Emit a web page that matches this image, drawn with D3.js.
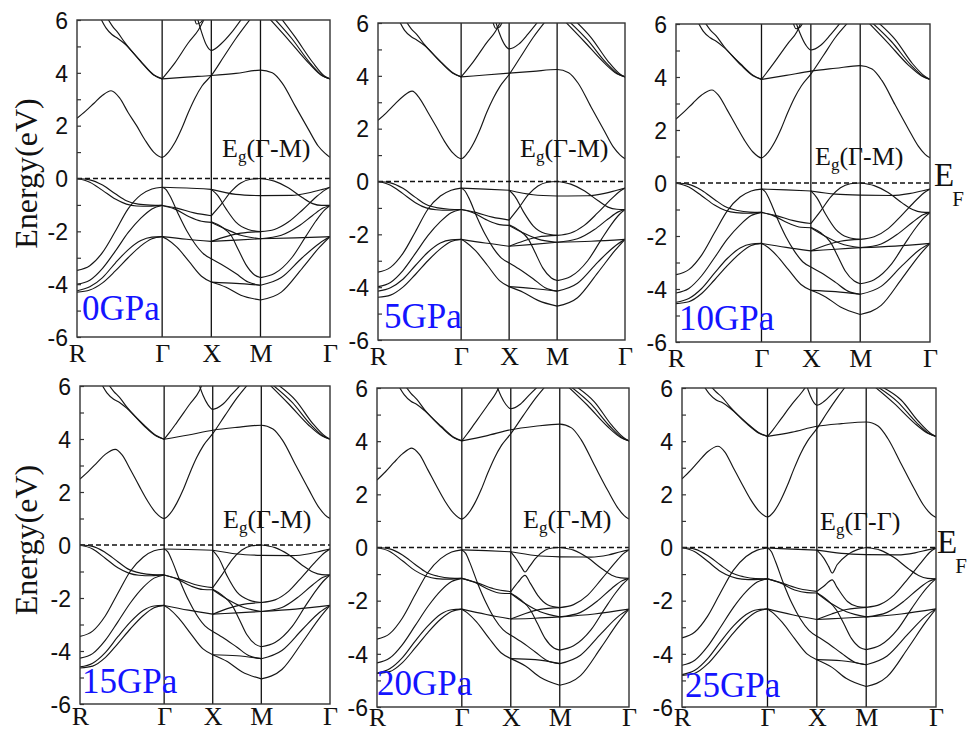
<!DOCTYPE html>
<html>
<head>
<meta charset="utf-8">
<script src="https://cdn.jsdelivr.net/npm/d3@7"></script>
<style>
  body { margin: 0; background: #fff; }
  svg { display: block; }
</style>
</head>
<body>
<svg id="chart" width="968" height="733"></svg>
<script>
// High-symmetry path R-Γ-X-M-Γ of the simple cubic Brillouin zone (k-distance units)
const kNodes = [0, 1.732, 2.732, 3.732, 5.146];
const kLabels = ["R", "Γ", "X", "M", "Γ"];
const energyTicks = [-6, -5, -4, -3, -2, -1, 0, 1, 2, 3, 4, 5, 6];
const energyLabels = [-6, -4, -2, 0, 2, 4, 6];
const pressureLabels = ["0GPa", "5GPa", "10GPa", "15GPa", "20GPa", "25GPa"];
const gapLabels = ["Γ-M", "Γ-M", "Γ-M", "Γ-M", "Γ-M", "Γ-Γ"];

// Each band line: [path position, energy in eV]; the path position is
// segment index + fraction (0..1 R-Γ, 1..2 Γ-X, 2..3 X-M, 3..4 M-Γ)
const bands0GPa = [
  [[0,2.28],[0.1,2.55],[0.2,2.85],[0.3,3.15],[0.4,3.32],[0.5,3.05],[0.6,2.5],[0.7,2.0],[0.8,1.45],[0.9,1.0],[1,0.8],[1.13,1.0],[1.26,1.36],[1.4,1.9],[1.53,2.49],[1.67,3.05],[1.81,3.5],[2,3.9],[2.25,4.6],[2.5,5.3],[2.8,6.05]],
  [[1,3.77],[1.5,3.84],[2,3.9],[2.5,3.98],[3,4.1],[3.17,4.0],[3.31,3.62],[3.5,2.74],[3.69,1.86],[3.83,1.23],[3.93,0.95],[4,0.8]],
  [[0.28,6.05],[0.34,5.7],[0.41,5.45],[0.48,5.3],[0.56,5.1],[0.76,4.38],[0.9,3.92],[1,3.77]],
  [[0.36,6.05],[0.42,5.75],[0.48,5.52],[0.56,5.15],[0.76,4.4],[0.9,3.93],[1,3.77]],
  [[1,3.77],[1.1,4.0],[1.26,4.38],[1.53,5.13],[1.74,5.63],[1.86,6.05]],
  [[1.72,6.05],[1.8,5.55],[1.9,5.05],[2,4.85],[2.2,5.1],[2.4,5.5],[2.62,6.05]],
  [[1.66,6.05],[1.7,5.85],[1.78,5.9],[1.84,6.05]],
  [[3.13,6.05],[3.4,5.26],[3.69,4.38],[3.88,3.9],[4,3.77]],
  [[3.2,6.05],[3.45,5.3],[3.72,4.35],[3.9,3.88],[4,3.77]],
  [[3.3,6.05],[3.5,5.35],[3.75,4.4],[3.92,3.88],[4,3.77]],
  [[0,0],[0.15,-0.05],[0.3,-0.25],[0.45,-0.58],[0.58,-0.84],[0.72,-0.97],[0.86,-1.01],[1,-1.02]],
  [[0,0],[0.15,-0.14],[0.3,-0.45],[0.45,-0.78],[0.58,-0.97],[0.7,-1.04],[0.85,-1.05],[1,-1.02]],
  [[0,-3.48],[0.15,-3.3],[0.3,-2.8],[0.45,-2.0],[0.6,-1.15],[0.75,-0.62],[0.88,-0.4],[1,-0.33]],
  [[0,-4.0],[0.15,-3.85],[0.3,-3.4],[0.45,-2.75],[0.6,-2.05],[0.75,-1.5],[0.88,-1.15],[1,-1.02]],
  [[0,-4.25],[0.15,-4.1],[0.3,-3.75],[0.45,-3.2],[0.6,-2.7],[0.75,-2.35],[0.88,-2.22],[1,-2.2]],
  [[0,-4.3],[0.15,-4.22],[0.3,-3.95],[0.45,-3.5],[0.6,-3.0],[0.75,-2.55],[0.88,-2.28],[1,-2.2]],
  [[1,-0.33],[1.5,-0.36],[2,-0.41]],
  [[1,-0.33],[1.08,-0.42],[1.16,-0.66],[1.33,-1.35],[1.5,-1.98],[1.67,-2.48],[1.84,-2.85],[2,-3.04]],
  [[1,-1.02],[1.3,-1.12],[1.65,-1.3],[2,-1.41]],
  [[1,-1.02],[1.25,-1.15],[1.55,-1.45],[1.8,-1.62],[2,-1.66]],
  [[1,-2.2],[1.5,-2.3],[2,-2.38]],
  [[1,-2.2],[1.1,-2.3],[1.3,-2.6],[1.55,-3.15],[1.8,-3.7],[2,-3.92]],
  [[2,-0.41],[2.5,-0.6],[3,-0.65]],
  [[2,-1.41],[2.2,-0.98],[2.4,-0.5],[2.6,-0.17],[2.8,-0.03],[3,0]],
  [[2,-0.41],[2.12,-0.62],[2.3,-1.15],[2.5,-1.65],[2.75,-1.93],[3,-2.01]],
  [[2,-1.64],[2.2,-1.82],[2.4,-2.15],[2.55,-2.7],[2.7,-3.25],[2.88,-3.65],[3,-3.75]],
  [[2,-1.66],[2.3,-1.92],[2.6,-2.15],[3,-2.28]],
  [[2,-2.38],[2.3,-2.2],[2.6,-2.07],[3,-2.01]],
  [[2,-2.38],[2.5,-2.33],[3,-2.28]],
  [[2,-3.04],[2.2,-3.25],[2.5,-3.6],[2.75,-3.92],[3,-4.04]],
  [[2,-3.92],[2.5,-3.97],[3,-4.04]],
  [[2,-3.92],[2.3,-4.12],[2.6,-4.42],[3,-4.6]],
  [[3,0],[3.2,-0.1],[3.4,-0.35],[3.6,-0.72],[3.75,-0.95],[3.88,-1.02],[4,-1.02]],
  [[3,-2.01],[3.2,-1.93],[3.4,-1.65],[3.6,-1.2],[3.8,-0.7],[3.92,-0.45],[4,-0.33]],
  [[3,-0.65],[3.45,-0.64],[3.7,-0.54],[3.88,-0.42],[4,-0.33]],
  [[3,-2.28],[3.3,-2.15],[3.55,-1.8],[3.75,-1.4],[3.9,-1.12],[4,-1.02]],
  [[3,-2.28],[3.5,-2.25],[4,-2.2]],
  [[3,-3.75],[3.2,-3.6],[3.45,-3.0],[3.65,-2.2],[3.8,-1.6],[3.92,-1.2],[4,-1.02]],
  [[3,-4.04],[3.3,-3.75],[3.6,-3.0],[3.85,-2.45],[4,-2.2]],
  [[3,-4.6],[3.3,-4.3],[3.6,-3.4],[3.85,-2.6],[4,-2.2]]
];

const bands5GPa = [
  [[0,2.32],[0.1,2.6],[0.2,2.92],[0.3,3.22],[0.41,3.42],[0.5,3.15],[0.6,2.62],[0.7,2.08],[0.8,1.52],[0.9,1.08],[1,0.86],[1.13,1.07],[1.26,1.45],[1.4,2.0],[1.53,2.6],[1.67,3.15],[1.81,3.6],[2,4.05],[2.25,4.75],[2.5,5.45],[2.75,6.05]],
  [[1,3.96],[1.5,4.03],[2,4.1],[2.5,4.17],[3,4.24],[3.17,4.12],[3.31,3.72],[3.5,2.82],[3.69,1.94],[3.83,1.3],[3.93,1.0],[4,0.86]],
  [[0.26,6.05],[0.32,5.72],[0.4,5.48],[0.47,5.35],[0.56,5.15],[0.76,4.5],[0.9,4.1],[1,3.96]],
  [[0.34,6.05],[0.4,5.78],[0.47,5.55],[0.56,5.18],[0.76,4.52],[0.9,4.12],[1,3.96]],
  [[1,3.96],[1.1,4.18],[1.26,4.55],[1.53,5.25],[1.72,5.7],[1.82,6.05]],
  [[1.72,6.05],[1.8,5.6],[1.9,5.2],[2,5.02],[2.2,5.2],[2.4,5.6],[2.6,6.05]],
  [[1.66,6.05],[1.72,5.8],[1.8,5.85],[1.86,6.05]],
  [[3.12,6.05],[3.4,5.3],[3.69,4.5],[3.88,4.08],[4,3.96]],
  [[3.18,6.05],[3.45,5.35],[3.72,4.5],[3.9,4.07],[4,3.96]],
  [[3.28,6.05],[3.5,5.45],[3.75,4.55],[3.92,4.08],[4,3.96]],
  [[0,0],[0.15,-0.05],[0.3,-0.26],[0.45,-0.6],[0.58,-0.87],[0.72,-1.0],[0.86,-1.05],[1,-1.06]],
  [[0,0],[0.15,-0.14],[0.3,-0.46],[0.45,-0.8],[0.58,-1.0],[0.7,-1.07],[0.85,-1.09],[1,-1.06]],
  [[0,-3.43],[0.15,-3.25],[0.3,-2.72],[0.45,-1.9],[0.6,-1.05],[0.75,-0.55],[0.88,-0.33],[1,-0.25]],
  [[0,-3.98],[0.15,-3.82],[0.3,-3.37],[0.45,-2.72],[0.6,-2.05],[0.75,-1.52],[0.88,-1.18],[1,-1.06]],
  [[0,-4.15],[0.15,-4.02],[0.3,-3.7],[0.45,-3.18],[0.6,-2.68],[0.75,-2.33],[0.88,-2.21],[1,-2.19]],
  [[0,-4.38],[0.15,-4.3],[0.3,-4.0],[0.45,-3.52],[0.6,-3.0],[0.75,-2.55],[0.88,-2.27],[1,-2.19]],
  [[1,-0.25],[1.5,-0.29],[2,-0.33]],
  [[1,-0.25],[1.08,-0.36],[1.16,-0.62],[1.33,-1.35],[1.5,-2.0],[1.67,-2.52],[1.84,-2.9],[2,-3.08]],
  [[1,-1.06],[1.3,-1.17],[1.65,-1.35],[2,-1.46]],
  [[1,-1.06],[1.25,-1.18],[1.55,-1.47],[1.8,-1.63],[2,-1.66]],
  [[1,-2.19],[1.5,-2.33],[2,-2.45]],
  [[1,-2.19],[1.1,-2.3],[1.3,-2.62],[1.55,-3.18],[1.8,-3.75],[2,-3.98]],
  [[2,-0.33],[2.5,-0.5],[3,-0.55]],
  [[2,-1.46],[2.2,-1.0],[2.4,-0.5],[2.6,-0.17],[2.8,-0.03],[3,0]],
  [[2,-0.33],[2.12,-0.56],[2.3,-1.15],[2.5,-1.68],[2.75,-1.97],[3,-2.04]],
  [[2,-1.64],[2.2,-1.84],[2.4,-2.18],[2.55,-2.72],[2.7,-3.27],[2.88,-3.65],[3,-3.75]],
  [[2,-1.66],[2.3,-1.95],[2.6,-2.18],[3,-2.3]],
  [[2,-2.45],[2.3,-2.25],[2.6,-2.1],[3,-2.04]],
  [[2,-2.45],[2.5,-2.38],[3,-2.3]],
  [[2,-3.08],[2.2,-3.3],[2.5,-3.68],[2.75,-4.02],[3,-4.15]],
  [[2,-3.98],[2.5,-4.05],[3,-4.15]],
  [[2,-3.98],[2.3,-4.2],[2.6,-4.5],[3,-4.72]],
  [[3,0],[3.2,-0.1],[3.4,-0.35],[3.6,-0.72],[3.75,-0.97],[3.88,-1.05],[4,-1.06]],
  [[3,-2.04],[3.2,-1.95],[3.4,-1.66],[3.6,-1.18],[3.8,-0.66],[3.92,-0.38],[4,-0.25]],
  [[3,-0.55],[3.45,-0.54],[3.7,-0.45],[3.88,-0.33],[4,-0.25]],
  [[3,-2.3],[3.3,-2.17],[3.55,-1.82],[3.75,-1.42],[3.9,-1.15],[4,-1.06]],
  [[3,-2.3],[3.5,-2.26],[4,-2.19]],
  [[3,-3.75],[3.2,-3.6],[3.45,-3.0],[3.65,-2.2],[3.8,-1.62],[3.92,-1.24],[4,-1.06]],
  [[3,-4.15],[3.3,-3.85],[3.6,-3.05],[3.85,-2.45],[4,-2.19]],
  [[3,-4.72],[3.3,-4.4],[3.6,-3.45],[3.85,-2.62],[4,-2.19]]
];

const bands10GPa = [
  [[0,2.41],[0.1,2.7],[0.2,3.02],[0.3,3.32],[0.42,3.51],[0.5,3.3],[0.6,2.75],[0.7,2.18],[0.8,1.62],[0.9,1.17],[1,0.95],[1.13,1.15],[1.26,1.52],[1.4,2.06],[1.53,2.65],[1.67,3.22],[1.81,3.67],[2,4.11],[2.25,4.8],[2.5,5.5],[2.75,6.05]],
  [[1,3.91],[1.5,4.06],[2,4.22],[2.5,4.33],[3,4.43],[3.17,4.3],[3.31,3.87],[3.5,2.95],[3.69,2.04],[3.83,1.4],[3.93,1.08],[4,0.95]],
  [[0.26,6.05],[0.32,5.72],[0.4,5.48],[0.47,5.35],[0.56,5.12],[0.76,4.45],[0.9,4.05],[1,3.91]],
  [[0.34,6.05],[0.4,5.78],[0.47,5.55],[0.56,5.16],[0.76,4.48],[0.9,4.07],[1,3.91]],
  [[1,3.91],[1.1,4.15],[1.26,4.55],[1.53,5.25],[1.72,5.72],[1.8,6.05]],
  [[1.7,6.05],[1.78,5.65],[1.9,5.2],[2,5.02],[2.2,5.2],[2.4,5.6],[2.6,6.05]],
  [[1.64,6.05],[1.7,5.82],[1.78,5.88],[1.84,6.05]],
  [[3.12,6.05],[3.4,5.28],[3.69,4.45],[3.88,4.04],[4,3.91]],
  [[3.17,6.05],[3.45,5.33],[3.72,4.47],[3.9,4.03],[4,3.91]],
  [[3.26,6.05],[3.5,5.42],[3.75,4.5],[3.92,4.04],[4,3.91]],
  [[0,0],[0.15,-0.05],[0.3,-0.27],[0.45,-0.62],[0.58,-0.9],[0.72,-1.04],[0.86,-1.1],[1,-1.11]],
  [[0,0],[0.15,-0.15],[0.3,-0.48],[0.45,-0.83],[0.58,-1.04],[0.7,-1.12],[0.85,-1.14],[1,-1.11]],
  [[0,-3.46],[0.15,-3.27],[0.3,-2.72],[0.45,-1.88],[0.6,-1.05],[0.75,-0.53],[0.88,-0.3],[1,-0.23]],
  [[0,-4.15],[0.15,-3.98],[0.3,-3.5],[0.45,-2.82],[0.6,-2.12],[0.75,-1.58],[0.88,-1.23],[1,-1.11]],
  [[0,-4.5],[0.15,-4.36],[0.3,-3.98],[0.45,-3.4],[0.6,-2.85],[0.75,-2.45],[0.88,-2.3],[1,-2.28]],
  [[0,-4.55],[0.15,-4.48],[0.3,-4.17],[0.45,-3.66],[0.6,-3.12],[0.75,-2.65],[0.88,-2.36],[1,-2.28]],
  [[1,-0.23],[1.5,-0.26],[2,-0.3]],
  [[1,-0.23],[1.08,-0.34],[1.16,-0.62],[1.33,-1.38],[1.5,-2.05],[1.67,-2.58],[1.84,-2.98],[2,-3.17]],
  [[1,-1.11],[1.3,-1.23],[1.65,-1.42],[2,-1.53]],
  [[1,-1.11],[1.25,-1.24],[1.55,-1.52],[1.8,-1.67],[2,-1.69]],
  [[1,-2.28],[1.5,-2.43],[2,-2.56]],
  [[1,-2.28],[1.1,-2.39],[1.3,-2.72],[1.55,-3.28],[1.8,-3.83],[2,-4.05]],
  [[2,-0.3],[2.5,-0.42],[3,-0.46]],
  [[2,-1.53],[2.2,-1.05],[2.4,-0.53],[2.6,-0.18],[2.8,-0.03],[3,0]],
  [[2,-0.3],[2.12,-0.55],[2.3,-1.18],[2.5,-1.74],[2.75,-2.05],[3,-2.13]],
  [[2,-1.67],[2.2,-1.88],[2.4,-2.24],[2.55,-2.78],[2.7,-3.33],[2.88,-3.7],[3,-3.8]],
  [[2,-1.69],[2.3,-2.02],[2.6,-2.28],[3,-2.44]],
  [[2,-2.56],[2.3,-2.35],[2.6,-2.2],[3,-2.13]],
  [[2,-2.56],[2.5,-2.5],[3,-2.44]],
  [[2,-3.17],[2.2,-3.38],[2.5,-3.75],[2.75,-4.08],[3,-4.2]],
  [[2,-4.05],[2.5,-4.1],[3,-4.2]],
  [[2,-4.05],[2.3,-4.3],[2.6,-4.68],[3,-4.96]],
  [[3,0],[3.2,-0.1],[3.4,-0.36],[3.6,-0.75],[3.75,-1.0],[3.88,-1.1],[4,-1.11]],
  [[3,-2.13],[3.2,-2.03],[3.4,-1.72],[3.6,-1.2],[3.8,-0.65],[3.92,-0.36],[4,-0.23]],
  [[3,-0.46],[3.45,-0.47],[3.7,-0.4],[3.88,-0.3],[4,-0.23]],
  [[3,-2.44],[3.3,-2.3],[3.55,-1.9],[3.75,-1.48],[3.9,-1.2],[4,-1.11]],
  [[3,-2.44],[3.5,-2.38],[4,-2.28]],
  [[3,-3.8],[3.2,-3.65],[3.45,-3.05],[3.65,-2.25],[3.8,-1.68],[3.92,-1.3],[4,-1.11]],
  [[3,-4.2],[3.3,-3.9],[3.6,-3.12],[3.85,-2.52],[4,-2.28]],
  [[3,-4.96],[3.3,-4.62],[3.6,-3.6],[3.85,-2.72],[4,-2.28]]
];

const bands15GPa = [
  [[0,2.49],[0.1,2.78],[0.2,3.1],[0.3,3.42],[0.42,3.61],[0.5,3.4],[0.6,2.84],[0.7,2.25],[0.8,1.68],[0.9,1.22],[1,1.0],[1.13,1.2],[1.26,1.58],[1.4,2.12],[1.53,2.72],[1.67,3.3],[1.81,3.76],[2,4.2],[2.25,4.88],[2.5,5.55],[2.72,6.05]],
  [[1,3.99],[1.5,4.15],[2,4.33],[2.5,4.44],[3,4.52],[3.17,4.38],[3.31,3.95],[3.5,3.02],[3.69,2.1],[3.83,1.45],[3.93,1.13],[4,1.0]],
  [[0.26,6.05],[0.32,5.74],[0.4,5.5],[0.47,5.38],[0.56,5.15],[0.76,4.5],[0.9,4.12],[1,3.99]],
  [[0.34,6.05],[0.4,5.8],[0.47,5.57],[0.56,5.19],[0.76,4.53],[0.9,4.14],[1,3.99]],
  [[1,3.99],[1.1,4.22],[1.26,4.62],[1.53,5.32],[1.72,5.8],[1.78,6.05]],
  [[1.72,6.05],[1.8,5.65],[1.9,5.3],[2,5.12],[2.2,5.3],[2.4,5.7],[2.58,6.05]],
  [[3.12,6.05],[3.4,5.32],[3.69,4.52],[3.88,4.12],[4,3.99]],
  [[3.16,6.05],[3.45,5.38],[3.72,4.54],[3.9,4.11],[4,3.99]],
  [[3.24,6.05],[3.5,5.46],[3.75,4.58],[3.92,4.12],[4,3.99]],
  [[0,0],[0.15,-0.05],[0.3,-0.28],[0.45,-0.63],[0.58,-0.92],[0.72,-1.06],[0.86,-1.12],[1,-1.13]],
  [[0,0],[0.15,-0.15],[0.3,-0.5],[0.45,-0.86],[0.58,-1.06],[0.7,-1.14],[0.85,-1.16],[1,-1.13]],
  [[0,-3.45],[0.15,-3.25],[0.3,-2.68],[0.45,-1.82],[0.6,-0.98],[0.75,-0.46],[0.88,-0.22],[1,-0.15]],
  [[0,-4.27],[0.15,-4.1],[0.3,-3.6],[0.45,-2.9],[0.6,-2.18],[0.75,-1.6],[0.88,-1.25],[1,-1.13]],
  [[0,-4.6],[0.15,-4.46],[0.3,-4.06],[0.45,-3.46],[0.6,-2.9],[0.75,-2.47],[0.88,-2.3],[1,-2.28]],
  [[0,-4.64],[0.15,-4.57],[0.3,-4.25],[0.45,-3.72],[0.6,-3.16],[0.75,-2.67],[0.88,-2.37],[1,-2.28]],
  [[1,-0.15],[1.5,-0.17],[2,-0.2]],
  [[1,-0.15],[1.08,-0.27],[1.16,-0.58],[1.33,-1.38],[1.5,-2.08],[1.67,-2.64],[1.84,-3.05],[2,-3.26]],
  [[1,-1.13],[1.3,-1.28],[1.65,-1.5],[2,-1.61]],
  [[1,-1.13],[1.25,-1.27],[1.55,-1.55],[1.8,-1.68],[2,-1.69]],
  [[1,-2.28],[1.5,-2.46],[2,-2.61]],
  [[1,-2.28],[1.1,-2.4],[1.3,-2.76],[1.55,-3.35],[1.8,-3.92],[2,-4.14]],
  [[2,-0.2],[2.5,-0.34],[3,-0.39]],
  [[2,-1.61],[2.2,-1.1],[2.4,-0.55],[2.6,-0.19],[2.8,-0.03],[3,0]],
  [[2,-0.2],[2.12,-0.48],[2.3,-1.18],[2.5,-1.78],[2.75,-2.08],[3,-2.17]],
  [[2,-1.67],[2.2,-1.9],[2.4,-2.28],[2.55,-2.82],[2.7,-3.38],[2.88,-3.75],[3,-3.84]],
  [[2,-1.69],[2.3,-2.05],[2.6,-2.33],[3,-2.51]],
  [[2,-2.61],[2.3,-2.4],[2.6,-2.25],[3,-2.17]],
  [[2,-2.61],[2.5,-2.56],[3,-2.51]],
  [[2,-3.26],[2.2,-3.48],[2.5,-3.86],[2.75,-4.18],[3,-4.29]],
  [[2,-4.14],[2.5,-4.18],[3,-4.29]],
  [[2,-4.14],[2.3,-4.4],[2.6,-4.78],[3,-5.05]],
  [[3,0],[3.2,-0.1],[3.4,-0.37],[3.6,-0.77],[3.75,-1.02],[3.88,-1.12],[4,-1.13]],
  [[3,-2.17],[3.2,-2.07],[3.4,-1.74],[3.6,-1.18],[3.8,-0.6],[3.92,-0.29],[4,-0.15]],
  [[3,-0.39],[3.45,-0.4],[3.7,-0.33],[3.88,-0.22],[4,-0.15]],
  [[3,-2.51],[3.3,-2.36],[3.55,-1.94],[3.75,-1.5],[3.9,-1.22],[4,-1.13]],
  [[3,-2.51],[3.5,-2.42],[4,-2.28]],
  [[3,-3.84],[3.2,-3.68],[3.45,-3.07],[3.65,-2.27],[3.8,-1.7],[3.92,-1.32],[4,-1.13]],
  [[3,-4.29],[3.3,-3.98],[3.6,-3.18],[3.85,-2.54],[4,-2.28]],
  [[3,-5.05],[3.3,-4.7],[3.6,-3.66],[3.85,-2.75],[4,-2.28]]
];

const bands20GPa = [
  [[0,2.54],[0.1,2.85],[0.2,3.2],[0.3,3.52],[0.41,3.74],[0.5,3.5],[0.6,2.92],[0.7,2.32],[0.8,1.75],[0.9,1.3],[1,1.07],[1.13,1.27],[1.26,1.65],[1.4,2.2],[1.53,2.8],[1.67,3.38],[1.81,3.84],[2,4.28],[2.25,4.95],[2.5,5.6],[2.7,6.05]],
  [[1,4.01],[1.5,4.2],[2,4.43],[2.5,4.56],[3,4.64],[3.17,4.5],[3.31,4.05],[3.5,3.1],[3.69,2.16],[3.83,1.52],[3.93,1.2],[4,1.07]],
  [[0.26,6.05],[0.32,5.75],[0.4,5.5],[0.47,5.38],[0.56,5.15],[0.76,4.52],[0.9,4.14],[1,4.01]],
  [[0.34,6.05],[0.4,5.8],[0.47,5.57],[0.56,5.19],[0.76,4.55],[0.9,4.16],[1,4.01]],
  [[1,4.01],[1.1,4.25],[1.26,4.66],[1.53,5.36],[1.7,5.82],[1.76,6.05]],
  [[1.72,6.05],[1.8,5.7],[1.9,5.38],[2,5.22],[2.2,5.4],[2.4,5.78],[2.55,6.05]],
  [[3.12,6.05],[3.4,5.35],[3.69,4.55],[3.88,4.14],[4,4.01]],
  [[3.16,6.05],[3.45,5.4],[3.72,4.57],[3.9,4.13],[4,4.01]],
  [[3.24,6.05],[3.5,5.48],[3.75,4.6],[3.92,4.14],[4,4.01]],
  [[0,0],[0.15,-0.05],[0.3,-0.28],[0.45,-0.64],[0.58,-0.93],[0.72,-1.08],[0.86,-1.15],[1,-1.16]],
  [[0,0],[0.15,-0.15],[0.3,-0.5],[0.45,-0.87],[0.58,-1.08],[0.7,-1.17],[0.85,-1.19],[1,-1.16]],
  [[0,-3.45],[0.15,-3.24],[0.3,-2.65],[0.45,-1.78],[0.6,-0.94],[0.75,-0.42],[0.88,-0.17],[1,-0.09]],
  [[0,-4.34],[0.15,-4.16],[0.3,-3.65],[0.45,-2.94],[0.6,-2.22],[0.75,-1.63],[0.88,-1.28],[1,-1.16]],
  [[0,-4.72],[0.15,-4.56],[0.3,-4.14],[0.45,-3.52],[0.6,-2.95],[0.75,-2.51],[0.88,-2.34],[1,-2.32]],
  [[0,-4.74],[0.15,-4.67],[0.3,-4.33],[0.45,-3.78],[0.6,-3.2],[0.75,-2.7],[0.88,-2.41],[1,-2.32]],
  [[1,-0.09],[1.5,-0.12],[2,-0.16]],
  [[1,-0.09],[1.08,-0.22],[1.16,-0.55],[1.33,-1.38],[1.5,-2.1],[1.67,-2.68],[1.84,-3.09],[2,-3.3]],
  [[1,-1.16],[1.3,-1.32],[1.65,-1.55],[2,-1.66]],
  [[1,-1.16],[1.25,-1.3],[1.55,-1.58],[1.8,-1.72],[2,-1.73]],
  [[1,-2.32],[1.5,-2.52],[2,-2.69]],
  [[1,-2.32],[1.1,-2.44],[1.3,-2.8],[1.55,-3.4],[1.8,-3.96],[2,-4.18]],
  [[2,-0.16],[2.5,-0.3],[3,-0.35]],
  [[2,-0.16],[2.12,-0.45],[2.22,-0.75],[2.29,-0.92],[2.38,-0.72],[2.5,-0.42],[2.7,-0.1],[2.85,-0.02],[3,0]],
  [[2,-1.66],[2.15,-1.3],[2.29,-1.05],[2.4,-1.35],[2.55,-1.8],[2.75,-2.15],[3,-2.26]],
  [[2,-1.72],[2.2,-1.96],[2.4,-2.35],[2.55,-2.88],[2.7,-3.42],[2.88,-3.78],[3,-3.86]],
  [[2,-1.73],[2.3,-2.12],[2.6,-2.42],[3,-2.61]],
  [[2,-2.69],[2.3,-2.48],[2.6,-2.33],[3,-2.26]],
  [[2,-2.69],[2.5,-2.66],[3,-2.61]],
  [[2,-3.3],[2.2,-3.53],[2.5,-3.93],[2.75,-4.26],[3,-4.37]],
  [[2,-4.18],[2.5,-4.22],[3,-4.37]],
  [[2,-4.18],[2.3,-4.46],[2.6,-4.88],[3,-5.18]],
  [[3,0],[3.2,-0.1],[3.4,-0.38],[3.6,-0.78],[3.75,-1.04],[3.88,-1.14],[4,-1.16]],
  [[3,-2.26],[3.2,-2.15],[3.4,-1.8],[3.6,-1.2],[3.8,-0.57],[3.92,-0.23],[4,-0.09]],
  [[3,-0.35],[3.45,-0.36],[3.7,-0.28],[3.88,-0.16],[4,-0.09]],
  [[3,-2.61],[3.3,-2.44],[3.55,-2.0],[3.75,-1.54],[3.9,-1.25],[4,-1.16]],
  [[3,-2.61],[3.5,-2.5],[4,-2.32]],
  [[3,-3.86],[3.2,-3.7],[3.45,-3.1],[3.65,-2.3],[3.8,-1.73],[3.92,-1.35],[4,-1.16]],
  [[3,-4.37],[3.3,-4.05],[3.6,-3.23],[3.85,-2.58],[4,-2.32]],
  [[3,-5.18],[3.3,-4.82],[3.6,-3.75],[3.85,-2.8],[4,-2.32]]
];

const bands25GPa = [
  [[0,2.58],[0.1,2.9],[0.2,3.26],[0.3,3.6],[0.42,3.81],[0.5,3.6],[0.6,3.0],[0.7,2.4],[0.8,1.82],[0.9,1.37],[1,1.15],[1.13,1.35],[1.26,1.75],[1.4,2.32],[1.53,2.93],[1.67,3.53],[1.81,4.0],[2,4.47],[2.2,5.05],[2.42,5.65],[2.58,6.05]],
  [[1,4.18],[1.5,4.34],[2,4.56],[2.5,4.66],[3,4.72],[3.17,4.57],[3.31,4.1],[3.5,3.15],[3.69,2.2],[3.83,1.56],[3.93,1.25],[4,1.13]],
  [[0.26,6.05],[0.32,5.78],[0.4,5.55],[0.47,5.45],[0.56,5.25],[0.76,4.65],[0.9,4.3],[1,4.18]],
  [[0.34,6.05],[0.4,5.85],[0.47,5.65],[0.56,5.3],[0.76,4.68],[0.9,4.32],[1,4.18]],
  [[1,4.18],[1.1,4.4],[1.26,4.8],[1.5,5.4],[1.7,5.85],[1.78,6.05]],
  [[1.8,6.05],[1.87,5.7],[1.94,5.45],[2,5.35],[2.15,5.5],[2.32,5.8],[2.47,6.05]],
  [[3.12,6.05],[3.4,5.42],[3.69,4.68],[3.88,4.3],[4,4.18]],
  [[3.16,6.05],[3.45,5.48],[3.72,4.7],[3.9,4.29],[4,4.18]],
  [[3.22,6.05],[3.5,5.55],[3.75,4.74],[3.92,4.3],[4,4.18]],
  [[0,0],[0.15,-0.06],[0.3,-0.3],[0.45,-0.66],[0.58,-0.95],[0.72,-1.1],[0.86,-1.17],[1,-1.18]],
  [[0,0],[0.15,-0.16],[0.3,-0.52],[0.45,-0.9],[0.58,-1.1],[0.7,-1.19],[0.85,-1.21],[1,-1.18]],
  [[0,-3.4],[0.15,-3.18],[0.3,-2.58],[0.45,-1.7],[0.6,-0.86],[0.75,-0.34],[0.88,-0.1],[1,-0.02]],
  [[0,-4.43],[0.15,-4.24],[0.3,-3.72],[0.45,-3.0],[0.6,-2.26],[0.75,-1.66],[0.88,-1.3],[1,-1.18]],
  [[0,-4.78],[0.15,-4.62],[0.3,-4.18],[0.45,-3.55],[0.6,-2.96],[0.75,-2.52],[0.88,-2.34],[1,-2.31]],
  [[0,-4.81],[0.15,-4.73],[0.3,-4.38],[0.45,-3.82],[0.6,-3.22],[0.75,-2.71],[0.88,-2.41],[1,-2.31]],
  [[1,-0.02],[1.5,-0.06],[2,-0.1]],
  [[1,-0.02],[1.08,-0.16],[1.16,-0.52],[1.33,-1.38],[1.5,-2.12],[1.67,-2.7],[1.84,-3.12],[2,-3.34]],
  [[1,-1.18],[1.3,-1.34],[1.65,-1.55],[2,-1.65]],
  [[1,-1.18],[1.25,-1.32],[1.55,-1.6],[1.8,-1.7],[2,-1.71]],
  [[1,-2.31],[1.5,-2.53],[2,-2.71]],
  [[1,-2.31],[1.1,-2.44],[1.3,-2.82],[1.55,-3.43],[1.8,-4.0],[2,-4.22]],
  [[2,-0.1],[2.5,-0.22],[3,-0.27]],
  [[2,-0.1],[2.14,-0.4],[2.24,-0.72],[2.31,-0.96],[2.41,-0.65],[2.62,-0.27],[2.82,-0.08],[3,0]],
  [[2,-1.65],[2.14,-1.46],[2.31,-1.22],[2.41,-1.5],[2.62,-2.03],[2.82,-2.22],[3,-2.25]],
  [[2,-1.7],[2.2,-1.96],[2.4,-2.36],[2.55,-2.88],[2.7,-3.42],[2.88,-3.77],[3,-3.84]],
  [[2,-1.71],[2.3,-2.12],[2.6,-2.42],[3,-2.61]],
  [[2,-2.71],[2.3,-2.5],[2.6,-2.33],[3,-2.25]],
  [[2,-2.71],[2.5,-2.66],[3,-2.61]],
  [[2,-3.34],[2.2,-3.57],[2.5,-3.98],[2.75,-4.3],[3,-4.41]],
  [[2,-4.22],[2.5,-4.26],[3,-4.41]],
  [[2,-4.22],[2.3,-4.5],[2.6,-4.93],[3,-5.23]],
  [[3,0],[3.2,-0.1],[3.4,-0.38],[3.6,-0.79],[3.75,-1.05],[3.88,-1.16],[4,-1.18]],
  [[3,-2.25],[3.2,-2.14],[3.4,-1.78],[3.6,-1.17],[3.8,-0.52],[3.92,-0.16],[4,-0.02]],
  [[3,-0.27],[3.45,-0.28],[3.7,-0.2],[3.88,-0.09],[4,-0.02]],
  [[3,-2.61],[3.3,-2.44],[3.55,-2.0],[3.75,-1.55],[3.9,-1.27],[4,-1.18]],
  [[3,-2.61],[3.5,-2.5],[4,-2.31]],
  [[3,-3.84],[3.2,-3.68],[3.45,-3.08],[3.65,-2.3],[3.8,-1.74],[3.92,-1.37],[4,-1.18]],
  [[3,-4.41],[3.3,-4.08],[3.6,-3.25],[3.85,-2.58],[4,-2.31]],
  [[3,-5.23],[3.3,-4.86],[3.6,-3.78],[3.85,-2.82],[4,-2.31]]
];

const panelBands = [bands0GPa, bands5GPa, bands10GPa, bands15GPa, bands20GPa, bands25GPa];

// Frame geometry and label placement of the six panels
const panels = [
  { l: 77,  r: 330, t: 20,  b: 337, xpad: 7, title: true,  ef: false, gx: 222, gy: 157, px: 82,  py: 320 },
  { l: 378, r: 625, t: 23,  b: 340, xpad: 7, title: false, ef: false, gx: 520, gy: 157, px: 384, py: 328 },
  { l: 676, r: 930, t: 24,  b: 342, xpad: 7, title: false, ef: true,  gx: 815, gy: 165, px: 679, py: 330, ex: 934, ey: 186 },
  { l: 80,  r: 330, t: 386, b: 704, xpad: 3, title: true,  ef: false, gx: 223, gy: 528, px: 82,  py: 693 },
  { l: 377, r: 629, t: 388, b: 707, xpad: 1, title: false, ef: false, gx: 523, gy: 528, px: 377, py: 695 },
  { l: 682, r: 936, t: 388, b: 707, xpad: 1, title: false, ef: true,  gx: 820, gy: 530, px: 685, py: 697, ex: 937, ey: 553 }
];

const svg = d3.select("#chart");
const serif = "'Liberation Serif', 'Times New Roman', serif";
const sans = "'Liberation Sans', Arial, sans-serif";

// path position (segment + fraction) -> k distance
function kAt(s) {
  const i = Math.min(Math.floor(s), 3);
  const f = s - i;
  return kNodes[i] + f * (kNodes[i + 1] - kNodes[i]);
}

panels.forEach((p, idx) => {
  const x = d3.scaleLinear().domain([kNodes[0], kNodes[4]]).range([p.l, p.r]);
  const y = d3.scaleLinear().domain([-6, 6]).range([p.b, p.t]);
  const g = svg.append("g");

  const clipId = "clip" + idx;
  svg.append("clipPath").attr("id", clipId)
    .append("rect").attr("x", p.l).attr("y", p.t)
    .attr("width", p.r - p.l).attr("height", p.b - p.t);

  // band lines
  const line = d3.line()
    .x(d => x(kAt(d[0])))
    .y(d => y(d[1]))
    .curve(d3.curveMonotoneX);

  g.append("g").attr("clip-path", `url(#${clipId})`)
    .selectAll("path").data(panelBands[idx]).join("path")
    .attr("d", line)
    .attr("fill", "none")
    .attr("stroke", "#161616")
    .attr("stroke-width", 1.15)
    .attr("stroke-linejoin", "round");

  // Fermi level
  g.append("line")
    .attr("x1", p.l).attr("x2", p.r)
    .attr("y1", y(0)).attr("y2", y(0))
    .attr("stroke", "#111").attr("stroke-width", 1.3)
    .attr("stroke-dasharray", "5,3");

  // high-symmetry verticals
  g.selectAll("line.sym").data(kNodes.slice(1, 4)).join("line")
    .attr("class", "sym")
    .attr("x1", d => x(d)).attr("x2", d => x(d))
    .attr("y1", p.t).attr("y2", p.b)
    .attr("stroke", "#111").attr("stroke-width", 1.3);

  // frame
  g.append("rect")
    .attr("x", p.l).attr("y", p.t)
    .attr("width", p.r - p.l).attr("height", p.b - p.t)
    .attr("fill", "none").attr("stroke", "#333").attr("stroke-width", 1.4);

  // energy axis: inward ticks on every eV, labels on even values
  const yAxis = d3.axisLeft(y)
    .tickValues(energyTicks)
    .tickSizeInner(-4).tickSizeOuter(0)
    .tickPadding(9)
    .tickFormat(d => energyLabels.includes(d) ? String(d) : "");
  const ya = g.append("g").attr("transform", `translate(${p.l},0)`).call(yAxis);
  ya.select(".domain").remove();
  ya.selectAll(".tick line").attr("stroke", "#333").attr("stroke-width", 1.2);
  ya.selectAll(".tick text")
    .attr("font-family", sans).attr("font-size", 23)
    .attr("fill", "#111").attr("dy", "0.36em");

  // k-path axis
  const xAxis = d3.axisBottom(x)
    .tickValues(kNodes)
    .tickFormat((d, i) => kLabels[i])
    .tickSize(0).tickPadding(p.xpad);
  const xa = g.append("g").attr("transform", `translate(0,${p.b})`).call(xAxis);
  xa.select(".domain").remove();
  xa.selectAll(".tick text")
    .attr("font-family", serif).attr("font-size", 26).attr("fill", "#111");

  if (p.title) {
    g.append("text")
      .attr("transform", `translate(37,${(p.t + p.b) / 2 - 5}) rotate(-90)`)
      .attr("text-anchor", "middle")
      .attr("font-family", serif).attr("font-size", 32).attr("fill", "#111")
      .text("Energy(eV)");
  }

  // band-gap label
  const gl = g.append("text")
    .attr("x", p.gx).attr("y", p.gy)
    .attr("font-family", serif).attr("font-size", 26).attr("fill", "#111");
  gl.append("tspan").text("E");
  gl.append("tspan").attr("font-size", 17).attr("dy", 5).text("g");
  gl.append("tspan").attr("dy", -5).text("(" + gapLabels[idx] + ")");

  // pressure label
  g.append("text")
    .attr("x", p.px).attr("y", p.py)
    .attr("font-family", serif).attr("font-size", 35).attr("fill", "#1414ff")
    .text(pressureLabels[idx]);

  if (p.ef) {
    const ef = g.append("text")
      .attr("x", p.ex).attr("y", p.ey)
      .attr("font-family", serif).attr("font-size", 33).attr("fill", "#111");
    ef.append("tspan").text("E");
    ef.append("tspan").attr("font-size", 21).attr("dy", 20).attr("dx", -2).text("F");
  }
});
</script>
</body>
</html>
